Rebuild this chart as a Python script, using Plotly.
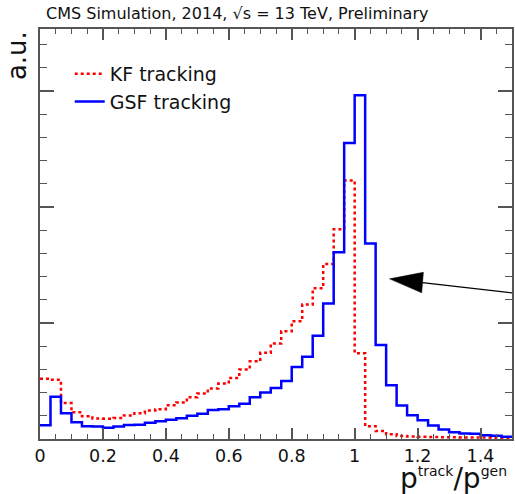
import numpy as np
import plotly.graph_objects as go

# ---------------- data ----------------
x_lo, x_hi, n_bins = 0.0, 1.5, 45
bin_edges = list(np.linspace(x_lo, x_hi, n_bins + 1))

kf_values = [0.52, 0.51, 0.31, 0.23, 0.197, 0.177, 0.175, 0.182, 0.203, 0.222,
             0.245, 0.257, 0.29, 0.315, 0.36, 0.392, 0.435, 0.478, 0.527, 0.60,
             0.67, 0.743, 0.823, 0.93, 1.016, 1.16, 1.30, 1.51, 1.81, 2.23,
             0.74, 0.11, 0.068, 0.04, 0.026, 0.022, 0.02, 0.018, 0.016, 0.015,
             0.014, 0.013, 0.012, 0.011, 0.01]

gsf_values = [0.119, 0.364, 0.222, 0.145, 0.11, 0.108, 0.096, 0.108, 0.121, 0.123,
              0.14, 0.153, 0.166, 0.178, 0.2, 0.217, 0.25, 0.256, 0.283, 0.303,
              0.36, 0.40, 0.44, 0.50, 0.62, 0.71, 0.89, 1.168, 1.61, 2.553,
              2.964, 1.685, 0.81, 0.464, 0.289, 0.205, 0.162, 0.116, 0.082, 0.059,
              0.047, 0.045, 0.032, 0.028, 0.019]

series_names = ["KF tracking", "GSF tracking"]
title_text = "CMS Simulation, 2014, √s = 13 TeV, Preliminary"
y_title = "a.u."
x_title = ('p<sup><span style="font-size:14px">track</span></sup>/'
           'p<sup><span style="font-size:14px">gen</span></sup>')

FONT = "DejaVu Sans"
FRAME = "#555555"

fig = go.Figure()
fig.add_trace(go.Scatter(
    x=bin_edges, y=kf_values + [kf_values[-1]], mode="lines",
    name=series_names[0],
    line=dict(shape="hv", color="#ff0000", dash="dot", width=2.5),
))
fig.add_trace(go.Scatter(
    x=bin_edges, y=gsf_values + [gsf_values[-1]], mode="lines",
    name=series_names[1],
    line=dict(shape="hv", color="#0000ff", width=2.5),
))

W, H = 515, 494
ml, mr, mt, mb = 40, 1, 29, 55
ymax = 3.536

axis_common = dict(
    showline=True, linecolor=FRAME, linewidth=2, mirror="ticks",
    ticks="inside", tickcolor=FRAME, tickwidth=1.5,
    showgrid=False, zeroline=False,
)

fig.update_layout(
    width=W, height=H,
    margin=dict(l=ml, r=mr, t=mt, b=mb),
    paper_bgcolor="white", plot_bgcolor="white",
    font=dict(family=FONT, color="#111111"),
    xaxis=dict(range=[0, 1.5], dtick=0.2, tick0=0, ticklen=11,
               tickfont=dict(size=17.5, family=FONT, color="#111111"),
               minor=dict(dtick=0.05, ticklen=5, ticks="inside",
                          tickcolor=FRAME, tickwidth=1.2),
               **axis_common),
    yaxis=dict(range=[0, ymax], dtick=1, tick0=0, ticklen=14,
               showticklabels=False,
               minor=dict(dtick=0.2, ticklen=7, ticks="inside",
                          tickcolor=FRAME, tickwidth=1.2),
               **axis_common),
    showlegend=True,
    legend=dict(x=0.063, y=0.937, xanchor="left", yanchor="top",
                bgcolor="rgba(0,0,0,0)", font=dict(size=19, family=FONT),
                tracegroupgap=0, itemwidth=30),
)

plot_h = H - mt - mb
plot_w = W - ml - mr

fig.add_annotation(
    text=title_text, xref="paper", yref="paper",
    x=(44 - ml) / plot_w, y=1 + 15.0 / plot_h,
    xanchor="left", yanchor="middle", showarrow=False,
    font=dict(size=16, family=FONT, color="#111111"),
)
fig.add_annotation(
    text=y_title, xref="paper", yref="paper", textangle=-90,
    x=(17 - ml) / plot_w, y=(H - mb - 56) / plot_h,
    xanchor="center", yanchor="middle", showarrow=False,
    font=dict(size=26, family=FONT, color="#111111"),
)
fig.add_annotation(
    text=x_title, xref="paper", yref="paper",
    x=(400 - ml) / plot_w, y=-(497 - (H - mb)) / plot_h,
    xanchor="left", yanchor="bottom", showarrow=False,
    font=dict(size=28, family=FONT, color="#111111"),
)

# arrow (decoration)
fig.add_shape(type="line", xref="x", yref="y",
              x0=1.2152, y0=1.349, x1=1.5032, y1=1.2586,
              line=dict(color="black", width=1.2))
fig.add_shape(type="path", xref="x", yref="y",
              path="M 1.1108 1.381 L 1.2184 1.4379 L 1.2130 1.2603 Z",
              fillcolor="black", line=dict(color="black", width=0.5))

fig.write_html("out.html")
